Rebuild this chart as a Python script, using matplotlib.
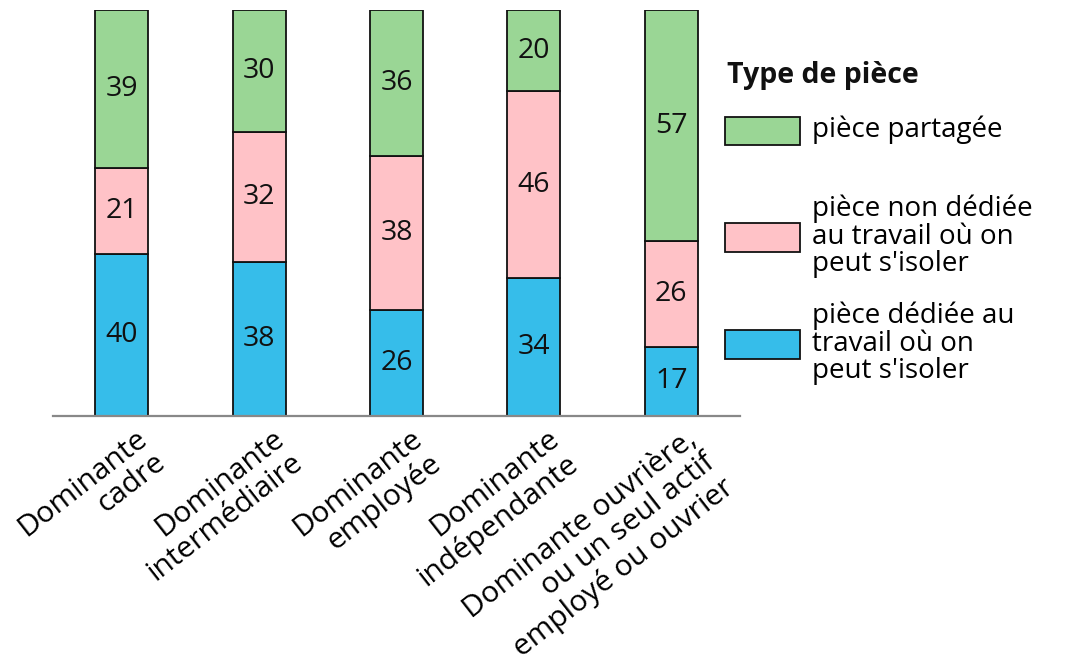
import matplotlib
matplotlib.use("Agg")
import matplotlib.pyplot as plt
import matplotlib.transforms as mtransforms
import numpy as np

categories = ["Dominante\ncadre", "Dominante\nintermédiaire", "Dominante\nemployée",
              "Dominante\nindépendante", "Dominante ouvrière,\nou un seul actif\nemployé ou ouvrier"]
dediee = [40, 38, 26, 34, 17]
non_dediee = [21, 32, 38, 46, 26]
partagee = [39, 30, 36, 20, 57]
series_labels = ["pièce dédiée au\ntravail où on\npeut s'isoler",
                 "pièce non dédiée\nau travail où on\npeut s'isoler",
                 "pièce partagée"]
legend_title = "Type de pièce"
colors = ["#36BDEA", "#FFC2C7", "#9AD695"]

plt.rcParams['font.family'] = ['Open Sans', 'DejaVu Sans']

fig = plt.figure(figsize=(10.66, 6.61), dpi=100)
ax = fig.add_axes([53/1066, 1 - 416/661, 687/1066, 406/661])

x = np.arange(len(categories))
w = 0.386
bottom = np.zeros(len(categories))
handles = []
for vals, col, lab in zip([dediee, non_dediee, partagee], colors, series_labels):
    bars = ax.bar(x, vals, w, bottom=bottom, color=col, edgecolor="#111111", linewidth=1.3, label=lab)
    for xi, b, v in zip(x, bottom, vals):
        ax.text(xi, b + v / 2, str(v), ha="center", va="center", fontsize=20.5, color="#111111")
    bottom += np.array(vals)
    handles.append(bars)

ax.set_xlim(-0.5, 4.5)
ax.set_ylim(0, 100)
ax.set_yticks([])
for s in ["top", "right", "left"]:
    ax.spines[s].set_visible(False)
ax.spines["bottom"].set_color("#888888")
ax.spines["bottom"].set_linewidth(1.6)
ax.set_xticks(x)
ax.set_xticklabels(categories, rotation=38, ha="right", rotation_mode="anchor",
                   multialignment="right", fontsize=21.5, linespacing=1.05)
ax.tick_params(axis="x", length=0, pad=6)
offset = mtransforms.ScaledTranslation(13/100, 0, fig.dpi_scale_trans)
for lbl in ax.get_xticklabels():
    lbl.set_transform(lbl.get_transform() + offset)

# legend (entries padded to equal height so spacing matches)
leg_labels = ["\n" + series_labels[2] + "\n", series_labels[1], series_labels[0]]
leg = fig.legend(handles[::-1], leg_labels,
                 loc="upper left", bbox_to_anchor=(725/1066, 1 - 88/661),
                 frameon=False, fontsize=20, borderpad=0, borderaxespad=0,
                 handlelength=2.7, handleheight=1.2, handletextpad=0.43,
                 labelspacing=0.85)
for t in leg.get_texts():
    t.set_linespacing(0.97)
fig.text(727/1066, 1 - 75/661, legend_title, fontsize=20.5, fontweight="bold",
         ha="left", va="center", color="#111111")

fig.savefig("out.png", dpi=100)
